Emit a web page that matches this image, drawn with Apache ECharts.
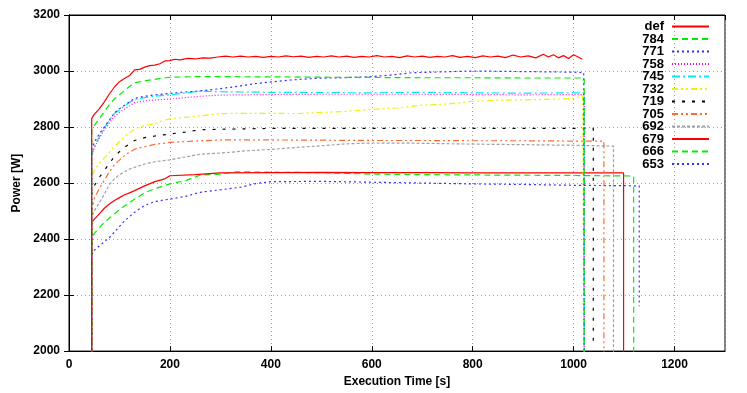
<!DOCTYPE html>
<html>
<head>
<meta charset="utf-8">
<script src="https://cdn.jsdelivr.net/npm/echarts@6/dist/echarts.min.js"></script>
<style>
  html, body { margin: 0; padding: 0; background: #fff; }
  #chart { width: 747px; height: 393px; }
</style>
</head>
<body>
<div id="chart"></div>
<script>
const FONT = '"Liberation Sans", Arial, sans-serif';

const NAMES = ['def', '784', '771', '758', '745', '732', '719', '705', '692', '679', '666', '653'];

const defData = [[45,1950],[45,2830],[50,2845],[60,2865],[70,2890],[80,2918],[90,2943],[100,2962],[110,2973],[120,2984],[130,3004],[140,3006],[150,3014],[160,3019],[170,3021],[180,3026],[190,3036],[200,3037],[210,3042],[220,3040],[235,3045],[250,3043],[265,3047],[280,3046],[295,3050],[310,3053],[325,3050],[340,3053],[355,3050],[370,3052],[385,3049],[400,3052],[415,3050],[430,3054],[445,3051],[460,3053],[475,3049],[490,3052],[505,3050],[520,3054],[535,3050],[550,3053],[565,3049],[580,3052],[595,3050],[610,3055],[625,3050],[640,3052],[655,3048],[670,3054],[685,3050],[700,3053],[715,3049],[730,3052],[745,3050],[760,3055],[775,3049],[790,3052],[805,3048],[820,3054],[835,3050],[850,3053],[865,3048],[880,3057],[895,3050],[910,3054],[925,3047],[940,3060],[950,3050],[960,3058],[970,3047],[980,3055],[990,3045],[1000,3058],[1010,3049],[1017,3042]];
const s784 = [[45,1950],[45,2790],[50,2805],[60,2830],[70,2855],[80,2880],[90,2900],[100,2915],[110,2930],[120,2945],[130,2958],[150,2965],[170,2970],[190,2976],[210,2978],[250,2980],[300,2980],[400,2979],[500,2978],[600,2977],[700,2976],[800,2976],[900,2975],[1000,2975],[1021,2975],[1021,1950]];
const s771 = [[45,1950],[45,2720],[50,2745],[60,2775],[70,2800],[80,2825],[90,2850],[100,2865],[110,2878],[120,2890],[130,2902],[150,2910],[170,2915],[200,2920],[230,2925],[260,2929],[300,2937],[340,2947],[370,2955],[400,2961],[440,2968],[490,2974],[540,2976],[600,2980],[640,2986],[680,2994],[720,2996],[760,2998],[800,3000],[850,2999],[900,2998],[950,2997],[1000,2996],[1020,2994],[1021,1950]];
const s758 = [[45,1950],[45,2700],[50,2725],[60,2760],[70,2790],[80,2815],[90,2838],[100,2852],[110,2864],[120,2875],[130,2887],[150,2893],[170,2897],[200,2900],[230,2905],[260,2910],[300,2914],[400,2916],[500,2917],[600,2917],[700,2917],[800,2916],[900,2915],[1000,2916],[1021,2916],[1021,1950]];
const s745 = [[45,1950],[45,2700],[50,2730],[60,2765],[70,2795],[80,2825],[90,2848],[100,2862],[110,2875],[120,2888],[130,2898],[150,2905],[170,2910],[200,2915],[230,2922],[260,2928],[300,2926],[400,2924],[500,2923],[600,2922],[700,2924],[800,2922],[900,2921],[1000,2922],[1021,2922],[1021,1950]];
const s732 = [[45,1950],[45,2620],[50,2645],[60,2670],[70,2690],[80,2710],[90,2730],[100,2748],[110,2765],[120,2780],[130,2793],[150,2805],[170,2812],[190,2825],[210,2832],[240,2836],[260,2840],[300,2848],[350,2849],[400,2849],[450,2848],[500,2852],[550,2856],[600,2863],[650,2868],[700,2878],[750,2882],[800,2892],[850,2896],[900,2897],[950,2899],[1000,2902],[1018,2912],[1021,1950]];
const s719 = [[45,1950],[45,2560],[50,2590],[60,2620],[70,2645],[80,2670],[90,2695],[100,2712],[110,2728],[120,2740],[130,2752],[150,2762],[170,2768],[200,2775],[230,2782],[260,2790],[300,2792],[400,2795],[500,2795],[600,2795],[700,2795],[800,2795],[900,2795],[1000,2795],[1039,2795],[1039,2015]];
const s705 = [[45,1950],[45,2500],[50,2545],[60,2580],[70,2610],[80,2640],[90,2665],[100,2682],[110,2698],[120,2710],[130,2721],[150,2730],[170,2738],[200,2745],[250,2750],[300,2754],[400,2754],[500,2753],[600,2752],[700,2752],[800,2751],[900,2751],[1000,2750],[1060,2750],[1060,1950]];
const s692 = [[45,1950],[45,2480],[50,2500],[60,2530],[70,2560],[80,2595],[90,2615],[100,2630],[110,2640],[120,2650],[130,2656],[150,2668],[170,2676],[200,2683],[230,2693],[260,2703],[300,2707],[350,2715],[400,2720],[450,2727],[500,2733],[550,2740],[600,2743],[700,2742],[800,2739],[900,2737],[1000,2735],[1079,2732],[1079,1950]];
const s679 = [[45,1950],[45,2460],[50,2470],[60,2490],[70,2510],[80,2525],[90,2538],[100,2548],[110,2558],[120,2565],[130,2573],[150,2590],[170,2605],[190,2615],[200,2626],[250,2630],[300,2636],[400,2637],[500,2638],[600,2637],[700,2637],[800,2636],[900,2636],[1000,2636],[1099,2636],[1099,1950]];
const s666 = [[45,1950],[45,2400],[50,2420],[60,2440],[70,2460],[80,2475],[90,2490],[100,2505],[110,2518],[120,2530],[130,2543],[150,2565],[170,2580],[200,2597],[230,2608],[260,2628],[300,2632],[330,2640],[400,2639],[500,2637],[600,2632],[700,2630],[800,2629],[900,2628],[1000,2627],[1119,2625],[1119,1950]];
const s653 = [[45,1950],[45,2340],[50,2360],[60,2375],[70,2390],[80,2405],[90,2425],[100,2445],[110,2465],[120,2480],[130,2496],[150,2520],[170,2534],[200,2543],[230,2552],[260,2567],[300,2576],[340,2585],[370,2598],[400,2605],[500,2606],[600,2603],[700,2600],[800,2597],[900,2595],[1000,2592],[1130,2590],[1130,2160]];

const SERIES_DATA = [defData, s784, s771, s758, s745, s732, s719, s705, s692, s679, s666, s653];
const COLORS = ['#ff0000', '#00ee00', '#3030ff', '#ff00ff', '#00eeee', '#f0f000', '#000000', '#ff6a30', '#a0a0a0', '#ff0000', '#00ee00', '#3030ff'];
const DASHES = ['solid', [6, 4], [2, 3], [1, 2], [8, 3, 2, 3], [6, 3, 2, 3, 2, 3], [3, 7], [6, 3, 2, 3, 2, 3], [3, 2], 'solid', [6, 4], [2, 3]];

const chart = echarts.init(document.getElementById('chart'), null, { renderer: 'canvas' });

const gridLine = { show: true, lineStyle: { color: '#a0a0a0', type: [1, 3], width: 1 } };
const axisLine = { show: true, lineStyle: { color: '#000', width: 1 } };
const tick = { show: true, inside: true, length: 5, lineStyle: { color: '#000' } };
const label = { color: '#000', fontFamily: FONT, fontWeight: 'bold', fontSize: 12 };

chart.setOption({
  backgroundColor: '#fff',
  animation: false,
  grid: { left: 69, right: 22, top: 15, bottom: 40, show: true, borderColor: '#000', borderWidth: 1 },
  xAxis: [
    {
      type: 'value', min: 0, max: 1300, interval: 200,
      name: 'Execution Time [s]', nameLocation: 'middle', nameGap: 24,
      nameTextStyle: label,
      axisLine, axisTick: tick, splitLine: gridLine,
      axisLabel: { ...label, margin: 8, showMaxLabel: false, formatter: v => String(v) },
    },
    {
      type: 'value', min: 0, max: 1300, interval: 200, position: 'top',
      axisLine, axisTick: tick, axisLabel: { show: false }, splitLine: { show: false },
    },
  ],
  yAxis: [
    {
      type: 'value', min: 2000, max: 3200, interval: 200,
      name: 'Power [W]', nameLocation: 'middle', nameGap: 41, nameRotate: 90,
      nameTextStyle: label,
      axisLine, axisTick: tick, splitLine: gridLine,
      axisLabel: { ...label, margin: 9, formatter: v => String(v) },
    },
    {
      type: 'value', min: 2000, max: 3200, interval: 200, position: 'right',
      axisLine, axisTick: tick, axisLabel: { show: false }, splitLine: { show: false },
    },
  ],
  legend: {
    orient: 'vertical', right: 37, top: 20, align: 'right', padding: 0,
    itemWidth: 37, itemHeight: 10, itemGap: -0.5,
    itemStyle: { opacity: 0 },
    textStyle: { color: '#000', fontFamily: FONT, fontWeight: 'bold', fontSize: 13, lineHeight: 11, padding: [0, 3, 0, 0] },
    data: NAMES,
  },
  series: NAMES.map((name, i) => ({
    name,
    type: 'line',
    data: SERIES_DATA[i],
    symbol: 'none',
    clip: true,
    lineStyle: { color: COLORS[i], width: 1.2, type: DASHES[i] },
    itemStyle: { color: COLORS[i] },
    z: 20 - i,
  })),
});
</script>
</body>
</html>
